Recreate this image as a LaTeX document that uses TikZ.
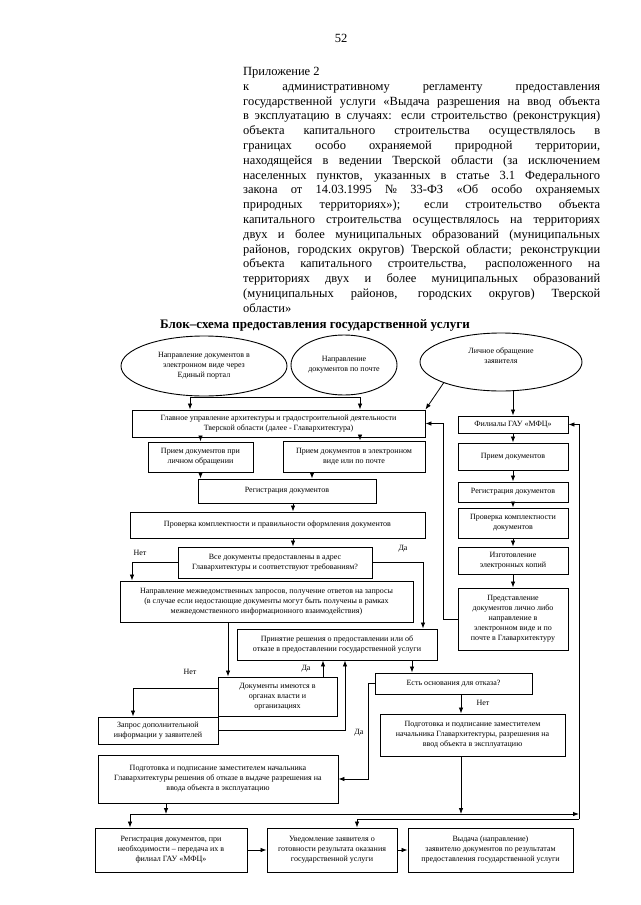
\documentclass[tikz,border=0pt]{standalone}
\usepackage{fontspec}
\setmainfont{Liberation Serif}
\usetikzlibrary{shapes.geometric,arrows.meta}
\newcommand\hl[1]{\makebox[357pt][s]{#1}}
\begin{document}
\begin{tikzpicture}[x=1pt,y=-1pt,
  every node/.style={inner sep=0pt},
  dfont/.style={font=\fontsize{8}{10}\selectfont},
  box/.style={draw,line width=0.9pt,align=center,dfont},
  ell/.style={draw,ellipse,line width=0.9pt,align=center,dfont},
  arr/.style={line width=0.8pt,-{Latex[length=6pt,width=4.5pt]}},
  ln/.style={line width=0.8pt},
  lbl/.style={dfont},
]
\path[use as bounding box] (0,0) rectangle (640,905);

\node[font=\fontsize{12.5}{15}\selectfont] (pg) at (341,38) {52};
\node[anchor=north west,align=left,font=\fontsize{12.5}{14.8}\selectfont] (hdr) at (243,67) {Приложение 2\\
\hl{к административному регламенту предоставления}\\
\hl{государственной услуги «Выдача разрешения на ввод объекта}\\
\hl{в эксплуатацию в случаях: если строительство (реконструкция)}\\
\hl{объекта капитального строительства осуществлялось в}\\
\hl{границах особо охраняемой природной территории,}\\
\hl{находящейся в ведении Тверской области (за исключением}\\
\hl{населенных пунктов, указанных в статье 3.1 Федерального}\\
\hl{закона от 14.03.1995 № 33-ФЗ «Об особо охраняемых}\\
\hl{природных территориях»); если строительство объекта}\\
\hl{капитального строительства осуществлялось на территориях}\\
\hl{двух и более муниципальных образований (муниципальных}\\
\hl{районов, городских округов) Тверской области; реконструкции}\\
\hl{объекта капитального строительства, расположенного на}\\
\hl{территориях двух и более муниципальных образований}\\
\hl{(муниципальных районов, городских округов) Тверской}\\
области»};
\node[font=\fontsize{13}{15}\selectfont\bfseries] (title) at (315,325) {Блок–схема предоставления государственной услуги};

% ellipses
\node[ell,minimum width=166pt,minimum height=60pt] (E1) at (204,366) {Направление документов в\\электронном виде через\\Единый портал};
\node[ell,minimum width=106pt,minimum height=60pt] (E2) at (344,365) {Направление\\документов по почте};
\node[ell,minimum width=162pt,minimum height=58pt] (E3) at (501,362) {\raisebox{6pt}[\height][\depth]{\begin{tabular}{@{}c@{}}Личное обращение\\заявителя\end{tabular}}};

% left column boxes
\node[box,minimum width=293pt,minimum height=27pt] (GU) at (278.5,423.5) {Главное управление архитектуры и градостроительной деятельности\\Тверской области (далее - Главархитектура)};
\node[box,minimum width=105pt,minimum height=30pt] (P1) at (200.5,457) {Прием документов при\\личном обращении};
\node[box,minimum width=142pt,minimum height=31pt] (P2) at (354,456.5) {Прием документов в электронном\\виде или по почте};
\node[box,minimum width=178pt,minimum height=24pt] (R1) at (287,491) {Регистрация документов};
\node[box,minimum width=295pt,minimum height=26pt] (C1) at (277.5,525) {Проверка комплектности и правильности оформления документов};
\node[box,minimum width=194pt,minimum height=31pt] (Q1) at (275,562.5) {Все документы предоставлены в адрес\\Главархитектуры и соответствуют требованиям?};
\node[box,minimum width=293pt,minimum height=41pt] (M1) at (266.5,601.5) {Направление межведомственных запросов, получение ответов на запросы\\(в случае если недостающие документы могут быть получены в рамках\\межведомственного информационного взаимодействия)};
\node[box,minimum width=200pt,minimum height=31pt] (D1) at (337,644.5) {Принятие решения о предоставлении или об\\отказе в предоставлении государственной услуги};
\node[box,minimum width=119pt,minimum height=39pt] (Q2) at (277.5,696.5) {Документы имеются в\\органах власти и\\организациях};
\node[box,minimum width=120pt,minimum height=27pt] (A1) at (158,730.5) {Запрос дополнительной\\информации у заявителей};
\node[box,minimum width=157pt,minimum height=21pt] (Q3) at (453.5,683.5) {Есть основания для отказа?};
\node[box,minimum width=185pt,minimum height=42pt] (S1) at (472.5,735) {Подготовка и подписание заместителем\\начальника Главархитектуры, разрешения на\\ввод объекта в эксплуатацию};
\node[box,minimum width=240pt,minimum height=48pt] (S2) at (218,779) {Подготовка и подписание заместителем начальника\\Главархитектуры решения об отказе в выдаче разрешения на\\ввода объекта в эксплуатацию};
\node[box,minimum width=152pt,minimum height=44pt] (B1) at (171,850) {Регистрация документов, при\\необходимости – передача их в\\филиал ГАУ «МФЦ»};
\node[box,minimum width=130pt,minimum height=44pt] (B2) at (332,850) {Уведомление заявителя о\\готовности результата оказания\\государственной услуги};
\node[box,minimum width=165pt,minimum height=44pt] (B3) at (490.5,850) {Выдача (направление)\\заявителю документов по результатам\\предоставления государственной услуги};

% right column
\node[box,minimum width=110pt,minimum height=17pt] (F1) at (513,424.5) {Филиалы ГАУ «МФЦ»};
\node[box,minimum width=110pt,minimum height=27pt] (F2) at (513,456.5) {Прием документов};
\node[box,minimum width=110pt,minimum height=20pt] (F3) at (513,492) {Регистрация документов};
\node[box,minimum width=110pt,minimum height=30pt] (F4) at (513,523) {Проверка комплектности\\документов};
\node[box,minimum width=110pt,minimum height=27pt] (F5) at (513,560.5) {Изготовление\\электронных копий};
\node[box,minimum width=110pt,minimum height=62pt] (F6) at (513,619) {Представление\\документов лично либо\\направление в\\электронном виде и по\\почте в Главархитектуру};

% lanes
\coordinate (ja) at (190,397);
\coordinate (jb) at (360,397);
\coordinate (xb) at (312,0);
\coordinate (xc) at (293,0);
\coordinate (xd) at (132,0);
\coordinate (xe) at (423,0);
\coordinate (xf) at (228,0);
\coordinate (xg) at (323,0);
\coordinate (yh) at (0,688);
\coordinate (xh) at (133,0);
\coordinate (xi) at (345,0);
\coordinate (xj) at (412,0);
\coordinate (xk) at (368,0);
\coordinate (xl) at (461,0);
\coordinate (xn) at (166,0);
\coordinate (xo) at (357,0);
\coordinate (xp) at (443,0);
\coordinate (L) at (130,814);
\coordinate (R) at (579,814);
\coordinate (R2) at (579,819);

% connectors
\draw[ln] (ja) -- (jb);
\draw[arr] (ja) -- (ja |- GU.north);
\draw[arr] (jb) -- (jb |- GU.north);
\draw[arr] (E3.200) -- (GU.north east);
\draw[arr] (E3.south -| F1.north) -- (F1.north);
\draw[arr] (GU.south -| P1.north) -- (P1.north);
\draw[arr] (GU.south -| jb) -- (P2.north -| jb);
\draw[arr] (P1.south) -- (P1.south |- R1.north);
\draw[arr] (P2.south -| xb) -- (R1.north -| xb);
\draw[arr] (R1.south -| xc) -- (C1.north -| xc);
\draw[arr] (C1.south -| xc) -- (Q1.north -| xc);
\draw[arr] (Q1.west) -| (M1.north -| xd);
\draw[arr] (Q1.east) -| (D1.north -| xe);
\draw[arr] (M1.south -| xf) -- (Q2.north -| xf);
\draw[arr] (Q2.north -| xg) -- (D1.south -| xg);
\draw[arr] (Q2.west |- yh) -| (A1.north -| xh);
\draw[arr] (A1.east) -| (D1.south -| xi);
\draw[arr] (D1.south -| xj) -- (Q3.north -| xj);
\draw[arr] (Q3.west) -- (Q3.west -| xk) |- (S2.east);
\draw[arr] (Q3.south -| xl) -- (S1.north -| xl);
\draw[arr] (S1.south -| xl) -- (xl |- L);
\draw[arr] (S2.south -| xn) -- (xn |- L);
\draw[arr] (L) -- (R);
\draw[arr] (L) -- (L |- B1.north);
\draw[arr] (R2) -- (R2 |- F1.east) -- (F1.east);
\draw[arr] (R2) -| (B2.north -| xo);
\draw[arr] (F6.west) -- (F6.west -| xp) |- (GU.east);
\foreach \a/\b in {F1/F2,F2/F3,F3/F4,F4/F5,F5/F6} \draw[arr] (\a.south) -- (\b.north);
\draw[arr] (B1.east) -- (B2.west);
\draw[arr] (B2.east) -- (B3.west);

% labels
\node[lbl] (n1) at (140,553) {Нет};
\node[lbl] (d1) at (403,549) {Да};
\node[lbl] (d2) at (306,669) {Да};
\node[lbl] (n2) at (190,672) {Нет};
\node[lbl] (d3) at (359,733) {Да};
\node[lbl] (n3) at (483,703) {Нет};
\end{tikzpicture}
\end{document}
